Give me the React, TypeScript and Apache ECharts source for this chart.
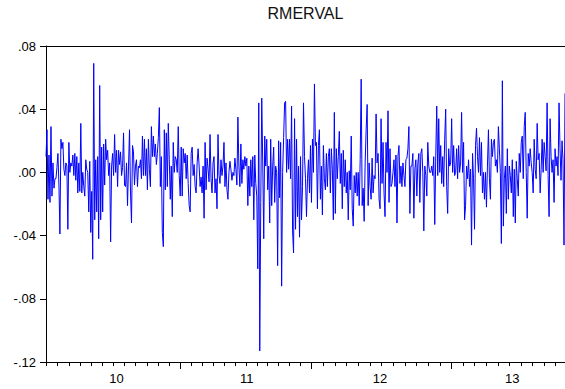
import React, { useEffect, useRef } from "react";
import * as echarts from "echarts";

// Daily returns of RMERVAL, in thousandths (left to right)
const seg2010a = [
  10, 27, -17, 11, -19, 29, -15, 6, -10, -4,
  -4, 3, 12, -8, -39, 21, 15, 19, 2, -2,
  6, 4, -36, 19, 0, 6, 4, 11, -2, 12,
  -5, 10, -13, 6, -12, 31, -13, 0, -9, -15,
  8, 2, 0, -25, 7, -38, -12, -55, 69, -30,
  8, -25, 10, -42, 55, -30, 16, -25, 18, -8,
  21, 8, 14, -2, 6, -44, 4, 12, -2, 24,
  0, 14, -9, 14, 5, 13, -2, 3, 25, -8,
  -9, 6, -21, 4, 27, -13, -32, 17, 13, -8,
  4, 8, -9, 4, 3,
];
const seg2010b = [
  8, -4, 23, -2, 21, -2, 15, -11, 21, 2,
  -9, 29, 10, 23, 10, 18, 5, 12, 22, 41,
  -9, 10, -38, -47, 27, -11, 25, -9, 31, 8,
  -17, 4, -28, 19, 0, 10, 8, 0, 29, -2,
  -15, 16, -15, 15, 6, 12, -4, 11, -7, -21,
  -25, 12, 16, -2, 5, -9, -13, 6, 15, 4,
  -9, -3, -13, 4, -29, 19, -11, 9, 2, -6,
  24, -4, -13, 6, 10, -13, -4, -23, 24, -2,
  -7, 8, -2, 4, 19, -9, 6, -11, -17, 0,
  7, 2, -5, 0, -2, 9, 2, -8, 35, 4,
];
const seg2011 = [
  -9, 18, -7, 8, 2, 10, 4, 9, -21, 4,
  -15, 8, -9, 10, -30, 11, -7, -15, -61, 44,
  -113, -19, 47, 6, -42, 23, 4, 21, -11, 4,
  -32, 21, -21, 4, 16, -19, 4, 0, -59, 20,
  -16, 19, -72, 0, 22, 44, 45, 0, 21, 2,
  21, -4, 42, -37, -51, 34, -36, 21, -28, 4,
  -41, 10, -30, -9, 44, 10, -4, -28, -4, 8,
  -13, 17, -19, 21, 0, 56, 17, 19, -23, 17,
  27, -17, 4, -27, 17, -4, -11, 12, -9, 10,
  15, -13, 15, 2, -30, 38, -26, 15, -4, 10,
];
const seg2012 = [
  26, -7, 12, -23, 14, -9, 8, -13, 0, -30,
  1, -11, 23, -23, -34, -2, -13, 0, -15, 0,
  -21, 8, 59, -21, -10, -31, 6, 27, 43, -21,
  6, -9, -17, 9, -13, -2, -4, 37, 6, 12,
  -17, -23, 34, -7, 19, -13, -28, 19, 0, 39,
  -19, 15, -9, -7, 0, 8, -9, 11, -32, 10,
  17, -7, 4, -9, 6, -2, -9, 8, 9, 15,
  29, -26, 4, 4, 12, -29, 2, 8, -15, 6,
  12, -19, 12, 15, 0, -37, 4, -2, -15, 19,
  4, 0, 0, 4, -2, 10, -33, 10, 42, -2,
];
const seg2013 = [
  34, 0, 17, -7, 10, -9, 21, 40, -9, -26,
  15, 4, 6, 34, 0, 17, -2, 0, 15, -4,
  17, 0, 6, 38, 0, 19, -30, -21, 4, -4,
  8, -9, 2, -46, 12, -4, -36, 17, 28, 10,
  0, 22, -2, 19, -13, 0, -17, 0, -22, 4,
  27, -4, -17, 21, 10, 19, 21, 4, 8, 0,
  29, 15, 0, -45, 58, -34, -4, 4, -26, 15,
  -17, 4, -2, -13, 8, -28, 2, -32, 7, -4,
  -15, 12, 0, 19, 23, -4, 29, 38, 0, -29,
  12, 4, 15, 6, 0, -13, 21, 2, -4, 31,
  8, 12, -13, 2, 21, 0, 19, 10, 1, 44,
  -2, -28, 34, 10, 0, 8, -19, 15, 4, 10,
  -2, 44, 15, -5, 20, 8, -46, 50,
];

// Observation index where each year begins, and where each year label sits
const yearStartIdx = [135, 267, 408];
const yearLabelIdx = [71, 202, 336, 469];
const yearLabels = ["10", "11", "12", "13"];
const monthsPerYear = 12;

const FONT = "'Liberation Sans', Arial, Helvetica, sans-serif";

export default function App() {
  const ref = useRef<HTMLDivElement>(null);

  useEffect(() => {
    if (!ref.current) return;
    const chart = echarts.init(ref.current, undefined, { renderer: "svg" });

    const values = [...seg2010a, ...seg2010b, ...seg2011, ...seg2012, ...seg2013].map(
      (v) => v / 1000
    );
    const N = values.length;
    const data = values.map((v, i) => [i, v]);

    // monthly ticks: each year split into 12 equal parts
    const monthTicks: number[] = [];
    const step0 = 11.2;
    for (let x = yearStartIdx[0] - step0; x > 0.5; x -= step0) monthTicks.push(x);
    for (let y = 0; y < yearStartIdx.length - 1; y++) {
      const a = yearStartIdx[y];
      const b = yearStartIdx[y + 1];
      const s = (b - a) / monthsPerYear;
      for (let k = 1; k < monthsPerYear; k++) monthTicks.push(a + s * k);
    }
    const lastStep = 11.6;
    for (
      let x = yearStartIdx[yearStartIdx.length - 1] + lastStep;
      x < N - 1;
      x += lastStep
    )
      monthTicks.push(x);
    monthTicks.sort((a, b) => a - b);

    const option: any = {
      animation: false,
      backgroundColor: "#ffffff",
      graphic: [
        {
          type: "text",
          x: 305.5,
          y: 13,
          style: {
            text: "RMERVAL",
            font: `16px ${FONT}`,
            fill: "#111",
            textAlign: "center",
            textVerticalAlign: "middle",
            align: "center",
            verticalAlign: "middle",
          },
        },
      ],
      grid: { left: 46, right: 0, top: 46, bottom: 27 },
      xAxis: [
        {
          type: "value",
          min: 0,
          max: N - 1,
          position: "bottom",
          axisLine: { show: true, onZero: false, lineStyle: { color: "#000", width: 1 } },
          axisTick: {
            show: true,
            inside: false,
            length: 4,
            customValues: monthTicks,
            lineStyle: { color: "#000", width: 1 },
          },
          axisLabel: { show: false },
          splitLine: { show: false },
        },
        {
          type: "value",
          min: 0,
          max: N - 1,
          position: "bottom",
          axisLine: { show: false, onZero: false },
          axisTick: {
            show: true,
            inside: false,
            length: 7,
            customValues: yearStartIdx,
            lineStyle: { color: "#000", width: 1 },
          },
          axisLabel: {
            show: true,
            customValues: yearLabelIdx,
            margin: 10,
            color: "#000",
            fontSize: 13,
            fontFamily: FONT,
            formatter: (v: number) => {
              const i = yearLabelIdx.indexOf(Math.round(v));
              return i >= 0 ? yearLabels[i] : "";
            },
          },
          splitLine: { show: false },
        },
        {
          type: "value",
          min: 0,
          max: N - 1,
          position: "top",
          axisLine: { show: true, onZero: false, lineStyle: { color: "#000", width: 1 } },
          axisTick: { show: false },
          axisLabel: { show: false },
          splitLine: { show: false },
        },
      ],
      yAxis: {
        type: "value",
        min: -0.12,
        max: 0.08,
        interval: 0.04,
        axisLine: { show: true, onZero: false, lineStyle: { color: "#000", width: 1 } },
        axisTick: { show: true, inside: false, length: 6, lineStyle: { color: "#000" } },
        axisLabel: {
          margin: 10,
          color: "#000",
          fontSize: 13,
          fontFamily: FONT,
          formatter: (v: number) => {
            if (Math.abs(v) < 1e-9) return ".00";
            return v.toFixed(2).replace(/^(-?)0\./, "$1.");
          },
        },
        splitLine: { show: false },
      },
      series: [
        {
          type: "line",
          data,
          xAxisIndex: 0,
          yAxisIndex: 0,
          showSymbol: false,
          symbol: "none",
          lineStyle: { color: "#0000ff", width: 1 },
          itemStyle: { color: "#0000ff" },
        },
      ],
    };

    chart.setOption(option);
    return () => chart.dispose();
  }, []);

  return (
    <div
      ref={ref}
      style={{ position: "fixed", left: 0, top: 0, width: 565, height: 389, background: "#fff" }}
    />
  );
}
